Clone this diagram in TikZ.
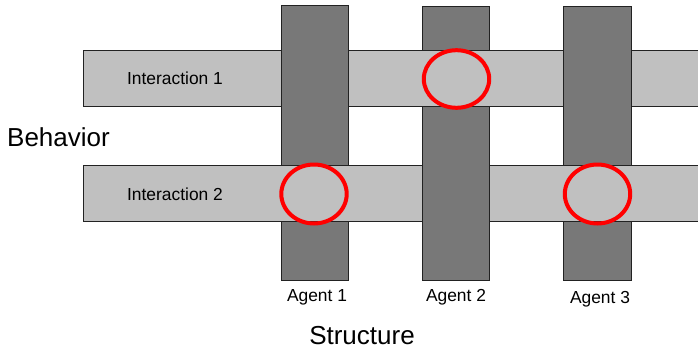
\documentclass[tikz,border=0pt]{standalone}
\usepackage{fontspec}
\setmainfont{Liberation Sans}
\definecolor{barlight}{HTML}{C0C0C0}
\definecolor{bardark}{HTML}{787878}
\definecolor{edge}{HTML}{222222}
\tikzset{
  interaction/.style={rectangle, fill=barlight, draw=edge, line width=0.9pt,
    minimum height=56pt, anchor=north west, inner sep=0pt},
  agent/.style={rectangle, fill=bardark, draw=edge, line width=0.9pt,
    minimum width=67.5pt, minimum height=274.5pt, anchor=north, inner sep=0pt},
  mark ring/.style={draw=red, line width=4pt},
  smalllabel/.style={font=\fontsize{17.4}{20}\selectfont, inner sep=0pt},
  biglabel/.style={font=\fontsize{26}{30}\selectfont, inner sep=0pt}
}
\begin{document}
\begin{tikzpicture}[x=1pt,y=-1pt]
\useasboundingbox (0,0) rectangle (698,351);
\clip (0,0) rectangle (698,351);

% horizontal interaction bars
\node[interaction, minimum width=625pt] (int1) at (83,50) {};
\node[interaction, minimum width=625pt] (int2) at (83,165) {};

% vertical agent bars
\node[agent] (ag1) at (314.7,5) {};
\node[agent] (ag2) at (456,5.5) {};
\node[agent] (ag3) at (597.5,5.5) {};

% crossings where the interaction passes over the agent
\foreach \b/\a in {int1/ag2, int2/ag1, int2/ag3}{
  \fill[barlight] ([xshift=-1pt]\a.west |- \b.north) rectangle ([xshift=1pt]\a.east |- \b.south);
  \draw[edge, line width=0.9pt] ([xshift=-2pt]\b.north -| \a.west) -- ([xshift=2pt]\b.north -| \a.east);
  \draw[edge, line width=0.9pt] ([xshift=-2pt]\b.south -| \a.west) -- ([xshift=2pt]\b.south -| \a.east);
}

% highlighted crossings
\draw[mark ring] (456.5,79) ellipse [x radius=32.7, y radius=28.8];
\draw[mark ring] (314,194) ellipse [x radius=32.7, y radius=29.5];
\draw[mark ring] (597.5,194) ellipse [x radius=32.7, y radius=29.5];

% labels
\node[smalllabel] (lint1) at (175,78.5) {Interaction 1};
\node[smalllabel] (lint2) at (175,194.5) {Interaction 2};
\node[smalllabel] (lag1) at (317,297) {Agent 1};
\node[smalllabel] (lag2) at (456,297) {Agent 2};
\node[smalllabel] (lag3) at (600,299) {Agent 3};
\node[biglabel] (lbeh) at (58.5,137.5) {Behavior};
\node[biglabel] (lstr) at (362,336) {Structure};
\end{tikzpicture}
\end{document}
